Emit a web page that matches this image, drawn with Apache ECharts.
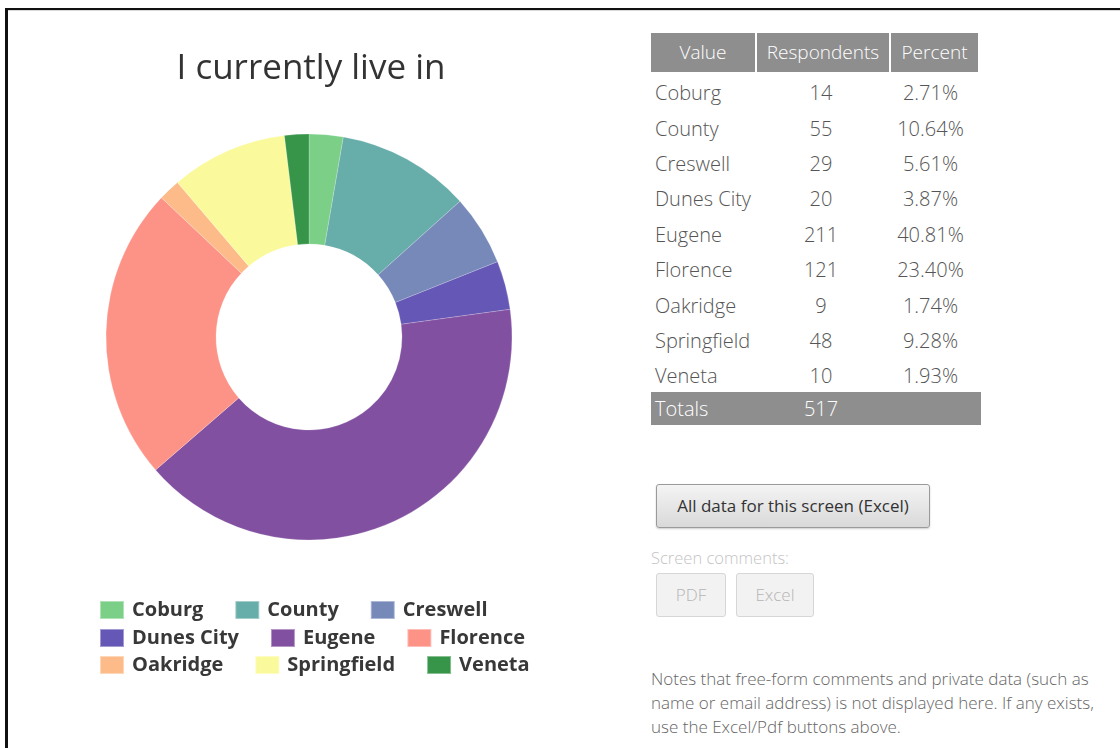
<!DOCTYPE html>
<html>
<head>
<meta charset="utf-8">
<title>I currently live in</title>
<script src="https://cdn.jsdelivr.net/npm/echarts@6/dist/echarts.min.js"></script>
<style>
  html, body {
    margin: 0;
    padding: 0;
    background: #fff;
    font-family: "Open Sans", "Noto Sans", sans-serif;
  }
  .page {
    position: relative;
    width: 1120px;
    height: 748px;
    overflow: hidden;
  }
  .frame-top {
    position: absolute;
    left: 5px;
    top: 8px;
    width: 1115px;
    height: 2px;
    background: #111;
    border-bottom: 1px solid #d8d8d8;
  }
  .frame-left {
    position: absolute;
    left: 5px;
    top: 8px;
    width: 3px;
    height: 740px;
    background: #111;
  }
  #chart {
    position: absolute;
    left: 0;
    top: 0;
    width: 620px;
    height: 748px;
  }
  .tbl {
    position: absolute;
    left: 651px;
    top: 33px;
    font-weight: 300;
    color: #555;
    font-size: 20px;
  }
  .row {
    display: flex;
    height: 35.4px;
    align-items: center;
  }
  .head {
    height: 39px;
    margin-bottom: 3px;
    color: #fff;
    font-size: 19px;
  }
  .head div {
    background: #8e8e8e;
    height: 39px;
    line-height: 39px;
    margin-right: 2px;
  }
  .c1 { width: 104px; padding-left: 4px; box-sizing: border-box; }
  .c2 { width: 132px; text-align: center; }
  .c3 { width: 87px; text-align: center; }
  .head .c1 { text-align: center; padding-left: 0; }
  .totals {
    position: absolute;
    left: 651px;
    top: 392px;
    width: 330px;
    height: 33px;
    background: #8e8e8e;
    color: #fff;
    font-weight: 300;
    font-size: 20px;
    display: flex;
    align-items: center;
  }
  .btn {
    position: absolute;
    box-sizing: border-box;
    border-radius: 3px;
    text-align: center;
    font-size: 17px;
  }
  .btn-main {
    left: 656px;
    top: 484px;
    width: 274px;
    height: 44px;
    line-height: 42px;
    border: 1px solid #9a9a9a;
    background: linear-gradient(#f4f4f4, #d9d9d9);
    color: #333;
    box-shadow: 0 1px 2px rgba(0,0,0,0.2);
  }
  .btn-off {
    top: 573px;
    height: 44px;
    line-height: 42px;
    border: 1px solid #d6d6d6;
    background: #f2f2f2;
    color: #b5b5b5;
    font-weight: 300;
  }
  .label {
    position: absolute;
    left: 651px;
    top: 546px;
    font-size: 16.5px;
    font-weight: 300;
    color: #c4c4c4;
  }
  .notes {
    position: absolute;
    left: 651px;
    top: 667px;
    font-size: 17px;
    line-height: 24px;
    font-weight: 300;
    color: #666;
    white-space: nowrap;
  }
</style>
</head>
<body>
<div class="page">
  <div class="frame-top"></div>
  <div class="frame-left"></div>
  <div id="chart"></div>

  <div class="tbl" id="tbl"></div>
  <div class="totals" id="totals"></div>

  <div class="btn btn-main">All data for this screen (Excel)</div>
  <div class="label">Screen comments:</div>
  <div class="btn btn-off" style="left:656px;width:70px;">PDF</div>
  <div class="btn btn-off" style="left:736px;width:78px;">Excel</div>

  <div class="notes">
    Notes that free-form comments and private data (such as<br>
    name or email address) is not displayed here. If any exists,<br>
    use the Excel/Pdf buttons above.
  </div>
</div>

<script>
const places = ['Coburg', 'County', 'Creswell', 'Dunes City', 'Eugene', 'Florence', 'Oakridge', 'Springfield', 'Veneta']
const respondents = [14, 55, 29, 20, 211, 121, 9, 48, 10]
const percents = ['2.71%', '10.64%', '5.61%', '3.87%', '40.81%', '23.40%', '1.74%', '9.28%', '1.93%']
const total = 517
const colors = ['#7bcf87', '#67adaa', '#7689b9', '#6557b5', '#8250a1', '#fd9387', '#fdbb89', '#fafa9d', '#37954a']

// table on the right
const tbl = document.getElementById('tbl')
let html = '<div class="row head"><div class="c1">Value</div><div class="c2">Respondents</div><div class="c3">Percent</div></div>'
places.forEach((p, i) => {
  html += '<div class="row"><div class="c1">' + p + '</div><div class="c2">' + respondents[i] +
    '</div><div class="c3">' + percents[i] + '</div></div>'
})
tbl.innerHTML = html
document.getElementById('totals').innerHTML =
  '<div class="c1">Totals</div><div class="c2">' + total + '</div>'

// donut
const chart = echarts.init(document.getElementById('chart'))
const legendText = { fontSize: 20, fontWeight: 'bold', color: '#383838', fontFamily: 'Open Sans', padding: [0, 0, 0, 3] }
const legendBase = {
  left: 99,
  orient: 'horizontal',
  itemWidth: 24,
  itemHeight: 18,
  itemGap: 31,
  padding: 0,
  icon: 'rect',
  selectedMode: false,
  textStyle: legendText
}

chart.setOption({
  animation: false,
  color: colors,
  title: {
    text: 'I currently live in',
    left: 306,
    textAlign: 'center',
    top: 47,
    textStyle: { fontSize: 35, fontWeight: 'normal', color: '#333', fontFamily: 'Open Sans' }
  },
  legend: [
    Object.assign({}, legendBase, { top: 600, data: places.slice(0, 3) }),
    Object.assign({}, legendBase, { top: 628, data: places.slice(3, 6) }),
    Object.assign({}, legendBase, { top: 655, data: places.slice(6, 9) })
  ],
  series: [
    {
      type: 'pie',
      center: [309, 337],
      radius: [93, 203],
      startAngle: 90,
      clockwise: true,
      label: { show: false },
      labelLine: { show: false },
      itemStyle: { borderColor: 'rgba(255,255,255,0.4)', borderWidth: 0.5 },
      data: places.map((p, i) => ({ name: p, value: respondents[i] }))
    }
  ]
})
</script>
</body>
</html>
